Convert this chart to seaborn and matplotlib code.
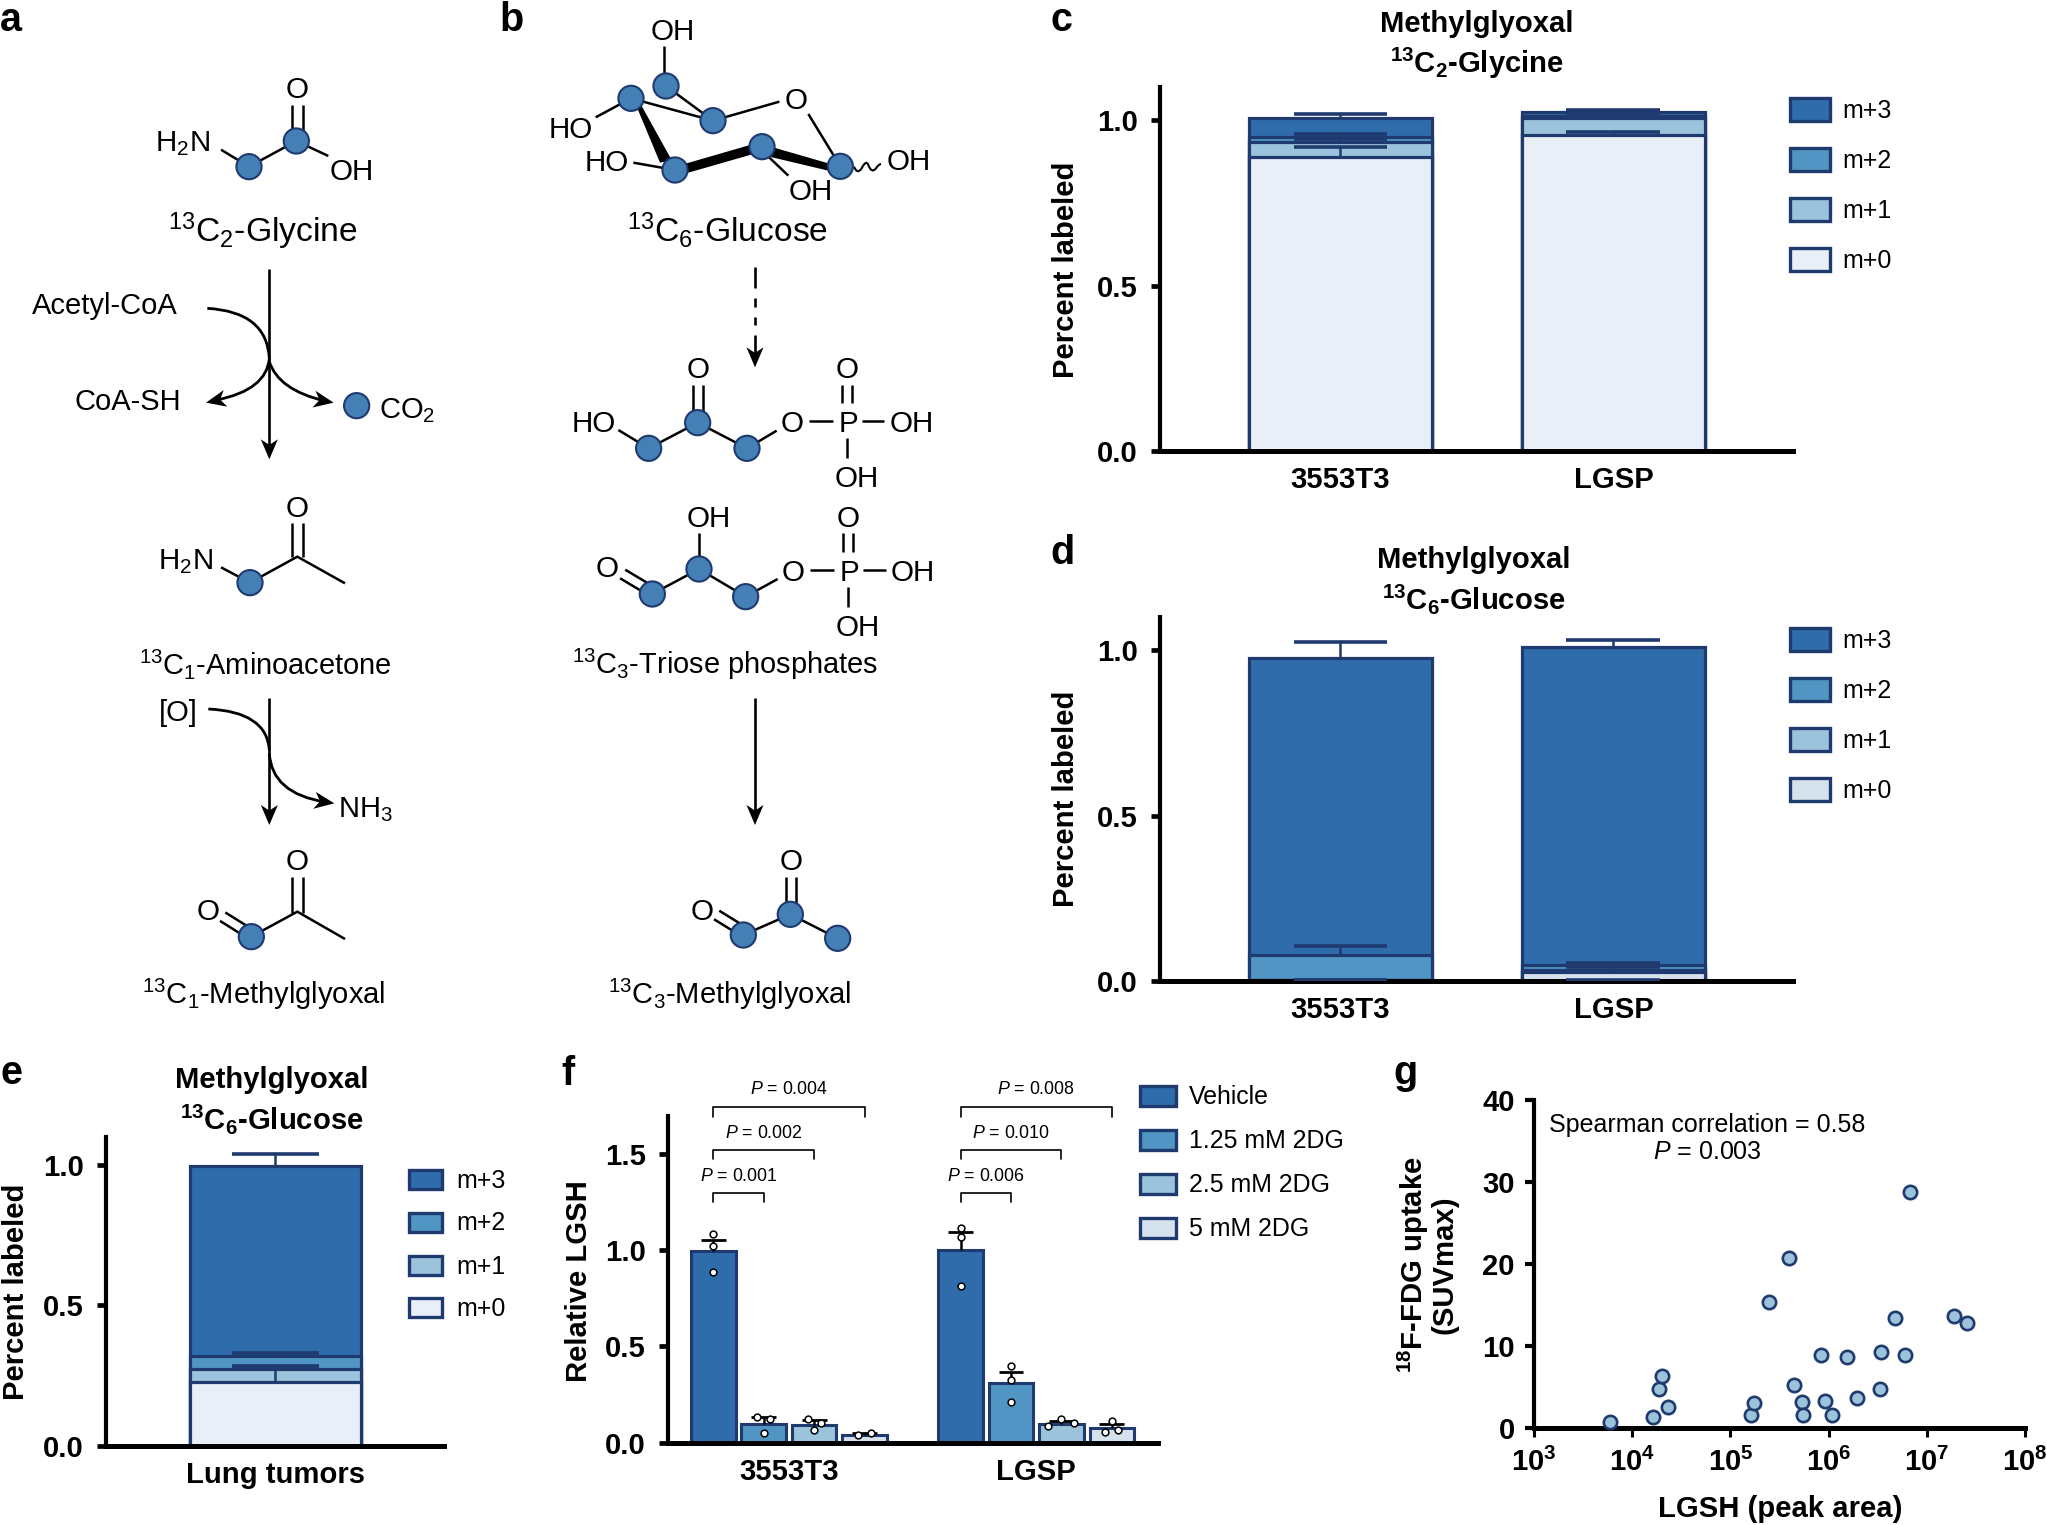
import numpy as np
import pandas as pd
import seaborn as sns
import matplotlib.pyplot as plt
from matplotlib.patches import Circle, PathPatch, Polygon, Rectangle
from matplotlib.path import Path

#Chart values
cells = ['3553T3', 'LGSP']
iso_names = ['m+3', 'm+2', 'm+1', 'm+0']

#c: fractions stacked from m+0 upward, caps are absolute heights
c_m0 = [0.889, 0.955]
c_m1 = [0.045, 0.052]
c_m2 = [0.014, 0.005]
c_m3 = [0.057, 0.011]
c_cap_m0 = [0.918, 0.965]
c_cap_m1 = [0.942, 1.012]
c_cap_m2 = [0.958, 1.020]
c_cap_m3 = [1.017, 1.030]

#d
d_m0 = [0.001, 0.025]
d_m1 = [0.001, 0.007]
d_m2 = [0.076, 0.015]
d_m3 = [0.900, 0.963]
d_cap_m0 = [0.002, 0.030]
d_cap_m1 = [0.002, 0.042]
d_cap_m2 = [0.105, 0.054]
d_cap_m3 = [1.024, 1.030]
d_cap_base = [0.002, 0.002]

#e
e_cells = ['Lung tumors']
e_m0 = [0.226]
e_m1 = [0.047]
e_m2 = [0.046]
e_m3 = [0.677]
e_cap_m0 = [0.273]
e_cap_m1 = [0.284]
e_cap_m2 = [0.329]
e_cap_m3 = [1.038]

#f
doses = ['Vehicle', '1.25 mM 2DG', '2.5 mM 2DG', '5 mM 2DG']
f_3553 = [0.995, 0.097, 0.093, 0.042]
f_lgsp = [1.000, 0.308, 0.097, 0.074]
f_cap_3553 = [1.054, 0.131, 0.118, 0.048]
f_cap_lgsp = [1.092, 0.367, 0.114, 0.097]
f_pts_3553 = [[1.081, 1.022, 0.884], [0.135, 0.123, 0.052], [0.123, 0.104, 0.064], [0.042, 0.050]]
f_pts_lgsp = [[1.116, 1.066, 0.815], [0.396, 0.327, 0.211], [0.087, 0.121, 0.100], [0.055, 0.114, 0.066]]
f_dx_3553 = [[0, 0, 0], [-0.027, 0.027, 0], [-0.027, 0.027, 0], [-0.027, 0.027]]
f_dx_lgsp = [[0, 0, 0], [0, 0, 0], [-0.053, 0, 0.051], [-0.027, 0, 0.026]]
f_pvals_3553 = ['0.001', '0.002', '0.004']
f_pvals_lgsp = ['0.006', '0.010', '0.008']

#g
lgsh_area = [5960, 16300, 23100, 18750, 19900, 163000, 174600, 250000, 395000, 446000, 533000, 550000,
             836000, 923000, 1084000, 1535000, 1950000, 3340000, 3400000, 4690000, 6010000, 6710000,
             19100000, 25500000]
suv_max = [0.77, 1.38, 2.56, 4.79, 6.38, 1.66, 3.13, 15.39, 20.75, 5.28, 3.21, 1.66,
           8.89, 3.33, 1.66, 8.69, 3.70, 4.79, 9.26, 13.48, 8.89, 28.75, 13.69, 12.87]

#Colours
EDGE = '#1f3a6e'
ATOM = '#4480b6'
M3 = '#2f6cab'
M2 = '#5095c3'
M1 = '#9cc3dc'
M0 = '#e8eff7'
M0_D = '#d5e2ee'
FONT_BIG = 21.1

sns.set_style('ticks')
plt.rcParams['font.family'] = 'Liberation Sans'
plt.rcParams['mathtext.fontset'] = 'custom'
plt.rcParams['mathtext.rm'] = 'Liberation Sans'
plt.rcParams['mathtext.it'] = 'Liberation Sans:italic'
plt.rcParams['mathtext.bf'] = 'Liberation Sans:bold'
plt.rcParams['mathtext.default'] = 'regular'
#seaborn greys the text and spines, the reference has them black
for key in ['text.color', 'axes.labelcolor', 'xtick.color', 'ytick.color', 'axes.edgecolor']:
    plt.rcParams[key] = 'black'

W, H = 2047, 1525
fig = plt.figure(figsize=(W / 100, H / 100), dpi=100)


def panel(left, right, top, bottom):
    return fig.add_axes([left / W, 1 - bottom / H, (right - left) / W, (bottom - top) / H])


def style_axis(ax, ymax, yticks, ylabel, label_x, label_y, left, right, top, bottom):
    ax.set_ylim(0, ymax)
    ax.set_yticks(yticks)
    sns.despine(ax=ax)
    ax.spines['left'].set_linewidth(3)
    ax.spines['bottom'].set_linewidth(3.6)
    ax.tick_params(axis='y', length=6.8, width=3.4, pad=9, labelsize=FONT_BIG)
    ax.tick_params(axis='x', length=0, pad=11, labelsize=FONT_BIG)
    ax.set_xlabel('')
    ax.set_ylabel(ylabel, fontsize=FONT_BIG, fontweight='bold', va='center')
    ax.yaxis.set_label_coords((label_x - left) / (right - left), (bottom - label_y) / (bottom - top))
    for t in ax.get_xticklabels() + ax.get_yticklabels():
        t.set_fontweight('bold')


def stacked(ax, labels, fractions, caps, colors, bar_w, cap_w):
    tops = np.cumsum(np.array(fractions), axis=0)
    df = pd.DataFrame({'cell': labels})
    for i in range(len(fractions) - 1, -1, -1):
        df['top'] = tops[i]
        sns.barplot(data=df, x='cell', y='top', color=colors[i], saturation=1, width=bar_w,
                    edgecolor=EDGE, linewidth=2.3, errorbar=None, ax=ax)
    xs = np.arange(len(labels))
    for i in range(len(fractions)):
        ax.vlines(xs, tops[i], caps[i], color=EDGE, lw=1.8, zorder=4)
        ax.hlines(caps[i], xs - cap_w, xs + cap_w, color=EDGE, lw=2.6, zorder=4)


#Panel c
c_box = (1159.5, 1793, 87, 451)
ax_c = panel(*c_box)
stacked(ax_c, cells, [c_m0, c_m1, c_m2, c_m3], [c_cap_m0, c_cap_m1, c_cap_m2, c_cap_m3],
        [M0, M1, M2, M3], 0.67, 0.172)
ax_c.set_xlim(-0.663, 1.658)
style_axis(ax_c, 1.10, [0, 0.5, 1], 'Percent labeled', 1066, 270, *c_box)

#Panel d
d_box = (1159.5, 1793, 617.3, 980.7)
ax_d = panel(*d_box)
stacked(ax_d, cells, [d_m0, d_m1, d_m2, d_m3], [d_cap_m0, d_cap_m1, d_cap_m2, d_cap_m3],
        [M0_D, M1, M2, M3], 0.67, 0.172)
ax_d.hlines(d_cap_base, np.arange(2) - 0.172, np.arange(2) + 0.172, color=EDGE, lw=2.6, zorder=4)
ax_d.set_xlim(-0.663, 1.658)
style_axis(ax_d, 1.10, [0, 0.5, 1], 'Percent labeled', 1066, 799, *d_box)

#Panel e
e_box = (105.7, 444, 1137.3, 1445.7)
ax_e = panel(*e_box)
stacked(ax_e, e_cells, [e_m0, e_m1, e_m2, e_m3], [e_cap_m0, e_cap_m1, e_cap_m2, e_cap_m3],
        [M0, M1, M2, M3], 0.67, 0.170)
ax_e.set_xlim(-0.666, 0.663)
style_axis(ax_e, 1.099, [0, 0.5, 1], 'Percent labeled', 16, 1292, *e_box)

#Panel f
f_box = (667.6, 1157.8, 1116, 1442.7)
ax_f = panel(*f_box)
f_df = pd.DataFrame({'cell': [c for c in cells for _ in doses],
                     'dose': doses * 2,
                     'value': f_3553 + f_lgsp})
f_colors = [M3, M2, M1, M0_D]
sns.barplot(data=f_df, x='cell', y='value', hue='dose', hue_order=doses, palette=f_colors, saturation=1,
            width=0.816, gap=0.117, edgecolor=EDGE, linewidth=2.2, errorbar=None, legend=False, ax=ax_f)
f_vals = [f_3553, f_lgsp]
f_caps = [f_cap_3553, f_cap_lgsp]
f_pts = [f_pts_3553, f_pts_lgsp]
f_dx = [f_dx_3553, f_dx_lgsp]
f_centers = [[], []]
for d, bars in enumerate(ax_f.containers):
    for g, bar in enumerate(bars):
        cx = bar.get_x() + bar.get_width() / 2
        f_centers[g].append(cx)
        ax_f.vlines(cx, f_vals[g][d], f_caps[g][d], color='black', lw=1.8, zorder=4)
        ax_f.hlines(f_caps[g][d], cx - 0.05, cx + 0.05, color='black', lw=2, zorder=4)
        sns.scatterplot(x=[cx + dx for dx in f_dx[g][d]], y=f_pts[g][d], color='white', edgecolor='black',
                        s=24, linewidth=1.1, zorder=5, legend=False, ax=ax_f)
ax_f.set_xlim(-0.491, 1.492)
style_axis(ax_f, 1.695, [0, 0.5, 1, 1.5], 'Relative LGSH', 579, 1281, *f_box)

#P value brackets sit above the axis, so they are not clipped
bracket_levels = [(1.251, 1.298), (1.471, 1.521), (1.692, 1.742)]
bracket_text_y = [1.338, 1.558, 1.788]
for g, pvals in enumerate([f_pvals_3553, f_pvals_lgsp]):
    x0 = f_centers[g][0]
    for k, pv in enumerate(pvals):
        x1 = f_centers[g][k + 1]
        ax_f.plot([x0, x0, x1, x1], [bracket_levels[k][0], bracket_levels[k][1], bracket_levels[k][1], bracket_levels[k][0]],
                  color='black', lw=1.2, clip_on=False)
        ax_f.text((x0 + x1) / 2, bracket_text_y[k], r'$\mathit{P}$ = ' + pv, ha='center', va='bottom',
                  fontsize=12.8, clip_on=False)

#Panel g
g_box = (1534, 2025, 1100, 1428.3)
ax_g = panel(*g_box)
ax_g.set_xscale('log')
sns.scatterplot(x=lgsh_area, y=suv_max, color=M1, edgecolor=EDGE, s=92, linewidth=1.9, legend=False,
                clip_on=False, zorder=4, ax=ax_g)
ax_g.set_xlim(1e3, 1e8)
ax_g.set_ylim(0, 40)
ax_g.set_xticks([1e3, 1e4, 1e5, 1e6, 1e7, 1e8])
ax_g.set_xticklabels([r'10$^{%d}$' % n for n in range(3, 9)])
ax_g.minorticks_off()
ax_g.set_yticks([0, 10, 20, 30, 40])
sns.despine(ax=ax_g)
ax_g.spines['left'].set_linewidth(3)
ax_g.spines['bottom'].set_linewidth(3.6)
ax_g.tick_params(axis='y', length=6.8, width=3, pad=7, labelsize=FONT_BIG)
ax_g.tick_params(axis='x', length=6.8, width=2.2, pad=7, labelsize=FONT_BIG)
for t in ax_g.get_xticklabels() + ax_g.get_yticklabels():
    t.set_fontweight('bold')
ax_g.set_xlabel('LGSH (peak area)', fontsize=FONT_BIG, fontweight='bold', va='center')
ax_g.xaxis.set_label_coords((1780 - 1534) / 491, -(1509 - 1428.3) / 328.3)
ax_g.set_ylabel('$^{18}$F-FDG uptake\n(SUVmax)', fontsize=FONT_BIG, fontweight='bold', va='center',
                ha='center', linespacing=1.0)
ax_g.yaxis.set_label_coords((1427 - 1534) / 491, (1428.3 - 1265) / 328.3)

#Everything else is placed in figure pixels
sk = fig.add_axes([0, 0, 1, 1])
sk.set_xlim(0, W)
sk.set_ylim(H, 0)
sk.axis('off')
sk.set_autoscale_on(False)

sk.text(1707, 1125, 'Spearman correlation = 0.58', ha='center', va='center', fontsize=18)
sk.text(1707, 1152, r'$\mathit{P}$ = 0.003', ha='center', va='center', fontsize=18)

#Panel letters
for letter, x, y in [('a', 0, 31), ('b', 499, 31), ('c', 1050, 31), ('d', 1050, 564),
                     ('e', 0, 1084), ('f', 561, 1085), ('g', 1393, 1084)]:
    sk.text(x, y, letter, fontsize=28.5, fontweight='bold', va='baseline', ha='left')

#Panel titles
for x, y, s in [(1477, 24, 'Methylglyoxal'), (1477, 63, '$^{13}$C$_{2}$-Glycine'),
                (1474, 560, 'Methylglyoxal'), (1474, 599, '$^{13}$C$_{6}$-Glucose'),
                (272, 1080, 'Methylglyoxal'), (272, 1119, '$^{13}$C$_{6}$-Glucose')]:
    sk.text(x, y, s, fontsize=FONT_BIG, fontweight='bold', ha='center', va='center')


#Legends
def legend(x0, x1, text_x, boxes, labels, colors, size, nudge):
    for (top, bottom), name, col in zip(boxes, labels, colors):
        sk.add_patch(Rectangle((x0, top), x1 - x0, bottom - top, fc=col, ec=EDGE, lw=2.4))
        sk.text(text_x, (top + bottom) / 2 + nudge, name, fontsize=size, va='center', ha='left')


legend(1790, 1830, 1842, [(98, 121), (148, 171), (198, 221), (248, 271)], iso_names, [M3, M2, M1, M0], 18, 1.5)
legend(1790, 1830, 1842, [(628, 651), (678, 701), (728, 751), (778, 801)], iso_names, [M3, M2, M1, M0_D], 18, 1.5)
legend(409, 442, 456.5, [(1170, 1189), (1213, 1232), (1256, 1275), (1298, 1317)], iso_names, [M3, M2, M1, M0], 18, 1)
legend(1140, 1176, 1189, [(1086, 1106), (1130, 1150), (1174, 1194), (1218, 1238)], doses, f_colors, 17.9, 1.5)

#Chemistry schemes, coordinates measured on 3x crops with these origins
A0, A1, B0, B1 = (0, 0), (0, 520), (500, 0), (500, 520)
BOND = 1.8
ATOM_FONT = 21.3


def px(org, p):
    return org[0] + p[0] / 3, org[1] + p[1] / 3


def bond(org, *pts, lw=BOND):
    xy = [px(org, p) for p in pts]
    sk.plot([p[0] for p in xy], [p[1] for p in xy], color='black', lw=lw, solid_capstyle='butt', solid_joinstyle='miter')


def double(org, p1, p2, gap=32):
    d = np.array(p2, float) - np.array(p1, float)
    n = np.array([-d[1], d[0]]) / np.hypot(*d) * gap / 2
    bond(org, tuple(p1 + n), tuple(p2 + n))
    bond(org, tuple(p1 - n), tuple(p2 - n))


def atoms(org, *pts):
    for p in pts:
        sk.add_patch(Circle(px(org, p), 12.6, fc=ATOM, ec=EDGE, lw=1.5, zorder=5))


def label(org, x, y, s, size=ATOM_FONT):
    x, y = px(org, (x, y))
    sk.text(x, y + 1, s, fontsize=size, ha='left', va='baseline')


def head(org, tip, direction, length=20, width=17):
    tx, ty = px(org, tip)
    d = np.array(direction, float)
    d = d / np.hypot(*d)
    n = np.array([-d[1], d[0]])
    t = np.array([tx, ty])
    sk.add_patch(Polygon([t, t - d * length + n * width / 2, t - d * length * 0.72, t - d * length - n * width / 2],
                         closed=True, fc='black', ec='none', zorder=4))


def curve(org, p0, c, p1):
    verts = [px(org, p0), px(org, c), px(org, p1)]
    sk.add_patch(PathPatch(Path(verts, [Path.MOVETO, Path.CURVE3, Path.CURVE3]), fc='none', ec='black', lw=2))


def wedge(org, *pts):
    sk.add_patch(Polygon([px(org, p) for p in pts], closed=True, fc='black', ec='none'))


#a, glycine
label(A0, 856, 290, 'O')
label(A0, 465, 452, 'H$_{2}$N')
label(A0, 990, 536, 'OH')
bond(A0, (663, 449), (747, 500), (889, 423), (985, 468))
double(A0, (892, 315), (892, 400))
atoms(A0, (747, 500), (889, 423))
label(A0, 503, 722, '$^{13}$C$_{2}$-Glycine', 24.2)
#a, first step
bond(A0, (808, 808), (808, 1345), lw=1.9)
head(A0, (808, 1378), (0, 1))
curve(A0, (622, 925), (800, 935), (808, 1075))
curve(A0, (808, 1075), (800, 1170), (650, 1200))
curve(A0, (808, 1085), (835, 1170), (975, 1203))
head(A0, (618, 1208), (-1, 0.22))
head(A0, (1001, 1208), (1, 0.18))
label(A0, 97, 940, 'Acetyl-CoA', 21)
label(A0, 225, 1226, 'CoA-SH', 21)
atoms(A0, (1070, 1217))
label(A0, 1137, 1252, 'CO$_{2}$', 21)
#a, aminoacetone
label(A1, 858, -12, 'O')
label(A1, 473, 145, 'H$_{2}$N')
bond(A1, (663, 142), (750, 188), (892, 110), (1035, 190))
double(A1, (892, 8), (892, 112))
atoms(A1, (750, 188))
label(A1, 417, 460, '$^{13}$C$_{1}$-Aminoacetone', 20.9)
#a, second step
bond(A1, (808, 533), (808, 880), lw=1.9)
head(A1, (808, 915), (0, 1))
label(A1, 477, 600, '[O]', 21)
curve(A1, (625, 567), (800, 575), (808, 690))
curve(A1, (808, 700), (815, 820), (975, 846))
head(A1, (1003, 850), (1, 0.15))
label(A1, 1015, 890, 'NH$_{3}$', 21)
#a, methylglyoxal
label(A1, 858, 1048, 'O')
double(A1, (892, 1072), (892, 1180))
label(A1, 590, 1198, 'O')
double(A1, (668, 1190), (735, 1232), 30)
bond(A1, (754, 1250), (892, 1175), (1035, 1257))
atoms(A1, (754, 1250))
label(A1, 425, 1450, '$^{13}$C$_{1}$-Methylglyoxal', 21)

#b, glucose ring
label(B0, 453, 116, 'OH')
bond(B0, (493, 138), (493, 258))
label(B0, 855, 323, 'O')
label(B0, 147, 412, 'HO')
bond(B0, (287, 352), (393, 295))
label(B0, 254, 510, 'HO')
bond(B0, (400, 488), (525, 510))
label(B0, 1160, 507, 'OH')
label(B0, 867, 598, 'OH')
bond(B0, (800, 465), (865, 527))
bond(B0, (393, 295), (639, 362))
bond(B0, (498, 258), (639, 362))
bond(B0, (639, 362), (838, 305))
bond(B0, (925, 342), (1021, 499))
wedge(B0, (410, 320), (425, 318), (515, 480), (480, 488))
wedge(B0, (560, 490), (750, 435), (760, 462), (565, 518))
wedge(B0, (812, 440), (985, 490), (985, 512), (808, 470))
sk.add_patch(PathPatch(Path([px(B0, p) for p in [(1062, 500), (1072, 525), (1085, 505), (1098, 478), (1105, 495),
                                                 (1115, 522), (1128, 505), (1135, 493), (1143, 492)]],
                            [Path.MOVETO] + [Path.CURVE3] * 8), fc='none', ec='black', lw=1.5))
atoms(B0, (498, 258), (393, 295), (639, 362), (525, 510), (786, 440), (1021, 499))
label(B0, 380, 722, '$^{13}$C$_{6}$-Glucose', 24.2)
#b, dashed step
for y0, y1 in [(800, 865), (895, 920), (950, 975), (1005, 1060)]:
    bond(B0, (765, y0), (765, y1), lw=1.9)
head(B0, (765, 1102), (0, 1))
#b, first triose
label(B0, 560, 1130, 'O')
double(B0, (594, 1155), (594, 1235))
label(B0, 215, 1293, 'HO')
bond(B0, (355, 1290), (446, 1345), (593, 1268), (741, 1345), (830, 1292))
atoms(B0, (593, 1268), (446, 1345), (741, 1345))
label(B0, 843, 1293, 'O')
bond(B0, (928, 1264), (1000, 1264))
label(B0, 1016, 1293, 'P')
bond(B0, (1086, 1264), (1152, 1264))
label(B0, 1169, 1293, 'OH')
bond(B0, (1041, 1315), (1041, 1375))
label(B0, 1005, 1458, 'OH')
label(B0, 1007, 1130, 'O')
double(B0, (1041, 1155), (1041, 1210), 29)
#b, second triose
label(B1, 560, 18, 'OH')
bond(B1, (597, 40), (597, 147))
label(B1, 1009, 18, 'O')
double(B1, (1044, 40), (1044, 97), 29)
label(B1, 288, 167, 'O')
double(B1, (368, 162), (440, 205), 30)
bond(B1, (457, 222), (597, 147), (737, 230), (833, 177))
atoms(B1, (597, 147), (457, 222), (737, 230))
label(B1, 846, 180, 'O')
bond(B1, (930, 150), (1003, 150))
label(B1, 1018, 180, 'P')
bond(B1, (1088, 150), (1158, 150))
label(B1, 1171, 180, 'OH')
bond(B1, (1043, 200), (1043, 262))
label(B1, 1007, 345, 'OH')
label(B1, 215, 460, '$^{13}$C$_{3}$-Triose phosphates', 20.9)
#b, last step
bond(B1, (765, 533), (765, 880), lw=1.9)
head(B1, (765, 915), (0, 1))
#b, methylglyoxal
label(B1, 840, 1048, 'O')
double(B1, (873, 1072), (873, 1150))
label(B1, 572, 1198, 'O')
double(B1, (650, 1185), (710, 1222), 30)
bond(B1, (730, 1245), (871, 1183), (1013, 1255))
atoms(B1, (871, 1183), (730, 1245), (1013, 1255))
label(B1, 325, 1450, '$^{13}$C$_{3}$-Methylglyoxal', 21)

fig.savefig('out.png', dpi=100)
